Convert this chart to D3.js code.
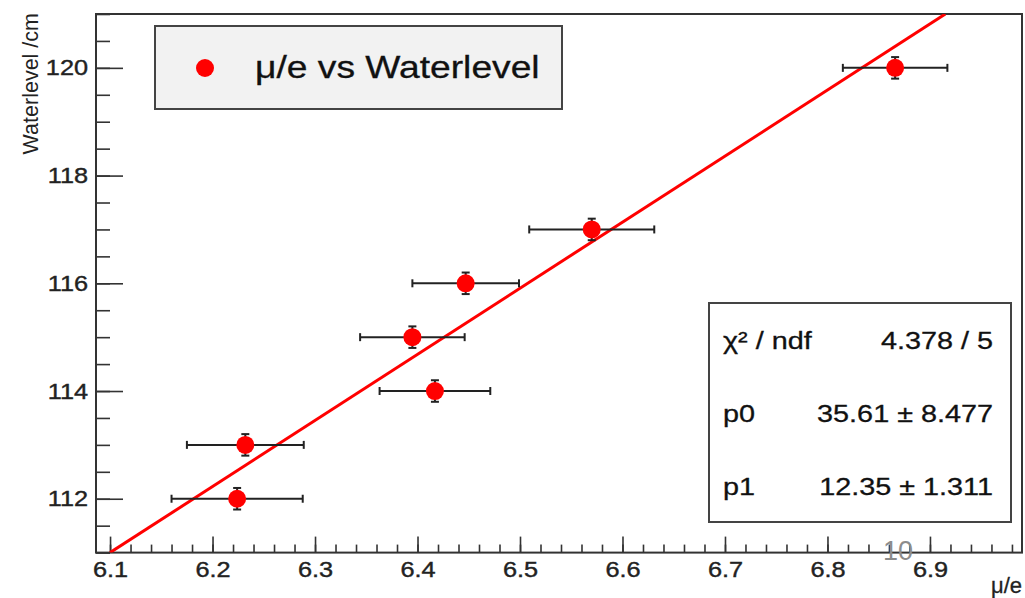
<!DOCTYPE html>
<html>
<head>
<meta charset="utf-8">
<script src="https://cdn.jsdelivr.net/npm/d3@7"></script>
<style>
body{margin:0;background:#fff}
text{font-family:"Liberation Sans",Arial,sans-serif}
</style>
</head>
<body>
<script>
// measured points (mu/e ratio vs water level)
const muE      = [6.224, 6.232, 6.395, 6.417, 6.447, 6.570, 6.866]
const level    = [112,   113,   115,   114,   116,   117,   120]
const muEErr   = [0.064, 0.057, 0.051, 0.054, 0.052, 0.061, 0.051]
const levelErr = [0.2,   0.2,   0.2,   0.2,   0.2,   0.2,   0.2]

// linear fit drawn across the frame
const fitX = [6.1, 6.915]
const fitY = [111.0, 121.0]

const xMajor = [6.1, 6.2, 6.3, 6.4, 6.5, 6.6, 6.7, 6.8, 6.9]
const yMajor = [112, 114, 116, 118, 120]

const statLabels = ['χ² / ndf', 'p0', 'p1']
const statValues = ['4.378 / 5', '35.61 ± 8.477', '12.35 ± 1.311']

const data = muE.map((d,i)=>({x:d, y:level[i], ex:muEErr[i], ey:levelErr[i]}))

const W=1025, H=598
const margin = ({top: 14, right: 3, bottom: 45.4, left: 96})
const width=W-margin.left-margin.right,
  height=H-margin.top-margin.bottom

let svg=d3.select('body').append('svg')
	.attr('width',W)
	.attr('height',H)

let g=svg.append('g')
	.attr('transform','translate('+margin.left+','+margin.top+')')

let xScale=d3.scaleLinear()
	.domain([6.0863, 6.9898])
	.range([0,width])

let yScale=d3.scaleLinear()
	.domain([111,121])
	.range([height,0])

const sx=1.15 // text in the reference is a bit wide

g.append('defs').append('clipPath').attr('id','clip')
	.append('rect').attr('width',width).attr('height',height)

// minor ticks
let xMinor=d3.range(6.1, 6.99, 0.02)
g.append('g')
	.attr('transform',`translate(0,${height})`)
	.call(d3.axisBottom(xScale).tickValues(xMinor).tickSize(-8).tickFormat(''))
	.call(a=>a.select('.domain').remove())
	.selectAll('line').attr('stroke','#333').attr('stroke-width',1.6)

g.append('g')
	.call(d3.axisLeft(yScale).tickValues(d3.range(111,121.01,0.5)).tickSize(-14).tickFormat(''))
	.call(a=>a.select('.domain').remove())
	.selectAll('line').attr('stroke','#333').attr('stroke-width',1.6)

// major ticks + labels
g.append('g')
	.attr('transform',`translate(0,${height})`)
	.call(d3.axisBottom(xScale).tickValues(xMajor).tickSize(-16).tickPadding(9).tickFormat(d3.format('.1f')))
	.call(a=>a.select('.domain').remove())
	.call(a=>a.selectAll('line').attr('stroke','#333').attr('stroke-width',1.6))
	.selectAll('text')
	.attr('font-size',22)
	.attr('fill','#222')
	.attr('stroke','#222').attr('stroke-width',0.4)
	.attr('transform',`scale(${sx},1)`)

g.append('g')
	.call(d3.axisLeft(yScale).tickValues(yMajor).tickSize(-27).tickPadding(8/sx).tickFormat(d3.format('d')))
	.call(a=>a.select('.domain').remove())
	.call(a=>a.selectAll('line').attr('stroke','#333').attr('stroke-width',1.6))
	.selectAll('text')
	.attr('font-size',22)
	.attr('fill','#222')
	.attr('stroke','#222').attr('stroke-width',0.4)
	.attr('transform',`scale(${sx},1)`)

// frame
g.append('rect')
	.attr('width',width).attr('height',height)
	.attr('fill','none').attr('stroke','#333').attr('stroke-width',2)

// axis titles
svg.append('text')
	.attr('transform','translate(38,13) rotate(-90)')
	.attr('text-anchor','end')
	.attr('font-size',21.5)
	.attr('fill','#222')
	.text('Waterlevel /cm')

svg.append('text')
	.attr('x',1022).attr('y',593)
	.attr('text-anchor','end')
	.attr('font-size',22)
	.attr('fill','#222')
	.attr('stroke','#222').attr('stroke-width',0.3)
	.text('μ/e')

// fit line
g.append('path')
	.datum(fitX.map((d,i)=>[d,fitY[i]]))
	.attr('clip-path','url(#clip)')
	.attr('fill','none')
	.attr('stroke','#ff0000')
	.attr('stroke-width',3)
	.attr('d',d3.line().x(d=>xScale(d[0])).y(d=>yScale(d[1])))

// error bars
const err=g.append('g')
	.attr('stroke','#222')
	.attr('stroke-width',2)
	.selectAll('g')
	.data(data)
	.join('g')

err.append('line')
	.attr('x1',d=>xScale(d.x-d.ex)).attr('x2',d=>xScale(d.x+d.ex))
	.attr('y1',d=>yScale(d.y)).attr('y2',d=>yScale(d.y))
err.append('line')
	.attr('x1',d=>xScale(d.x)).attr('x2',d=>xScale(d.x))
	.attr('y1',d=>yScale(d.y-d.ey)).attr('y2',d=>yScale(d.y+d.ey))
// caps
err.each(function(d){
	const s=d3.select(this)
	;[d.x-d.ex, d.x+d.ex].forEach(v=>s.append('line')
		.attr('x1',xScale(v)).attr('x2',xScale(v))
		.attr('y1',yScale(d.y)-4).attr('y2',yScale(d.y)+4))
	;[d.y-d.ey, d.y+d.ey].forEach(v=>s.append('line')
		.attr('x1',xScale(d.x)-4).attr('x2',xScale(d.x)+4)
		.attr('y1',yScale(v)).attr('y2',yScale(v)))
})

g.append('g')
	.attr('fill','#ff0000')
	.selectAll('circle')
	.data(data)
	.join('circle')
	.attr('cx',d=>xScale(d.x))
	.attr('cy',d=>yScale(d.y))
	.attr('r',9)

// legend
const leg=svg.append('g')
leg.append('rect')
	.attr('x',155).attr('y',26).attr('width',407).attr('height',83)
	.attr('fill','#f2f2f2').attr('stroke','#444').attr('stroke-width',2)
leg.append('circle')
	.attr('cx',205).attr('cy',68).attr('r',9).attr('fill','#ff0000')
leg.append('text')
	.attr('transform','translate(255,78) scale(1.2,1)')
	.attr('font-size',31)
	.attr('fill','#111')
	.attr('stroke','#111').attr('stroke-width',0.3)
	.text('μ/e vs Waterlevel')

// fit statistics box
const stat=svg.append('g')
stat.append('rect')
	.attr('x',709).attr('y',303).attr('width',302).attr('height',219)
	.attr('fill','#fff').attr('stroke','#444').attr('stroke-width',2)
const rowsY=[349,422,495]
stat.selectAll('text.lab')
	.data(statLabels)
	.join('text')
	.attr('class','lab')
	.attr('transform',(d,i)=>`translate(723,${rowsY[i]}) scale(1.2,1)`)
	.attr('font-size',24)
	.attr('fill','#111')
	.attr('stroke','#111').attr('stroke-width',0.3)
	.text(d=>d)
stat.selectAll('text.val')
	.data(statValues)
	.join('text')
	.attr('class','val')
	.attr('transform',(d,i)=>`translate(993,${rowsY[i]}) scale(1.2,1)`)
	.attr('text-anchor','end')
	.attr('font-size',24)
	.attr('fill','#111')
	.attr('stroke','#111').attr('stroke-width',0.3)
	.text(d=>d)

// slide page number overlapping the axis
svg.append('text')
	.attr('x',883).attr('y',560)
	.attr('font-size',27)
	.attr('fill','#8c8c8c')
	.text('10')
</script>
</body>
</html>
